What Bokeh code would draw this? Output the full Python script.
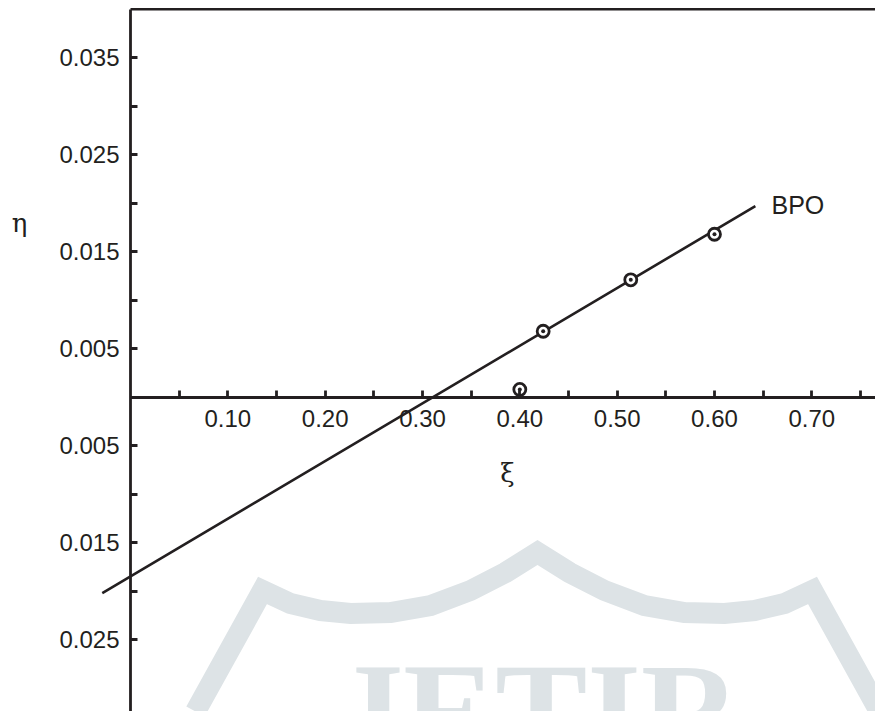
from bokeh.plotting import figure
from bokeh.models import Range1d, FixedTicker, CustomJSTickFormatter
from bokeh.core.properties import value
from bokeh.embed import file_html
from bokeh.resources import INLINE

# ---- data ----
xi = [0.400, 0.424, 0.514, 0.600]
eta = [0.0008, 0.0068, 0.0121, 0.0168]
fit_xi = [-0.029, 0.642]
fit_eta = [-0.0202, 0.0197]
series_label = "BPO"
x_ticks = [0.10, 0.20, 0.30, 0.40, 0.50, 0.60, 0.70]
x_minor = [0.05, 0.15, 0.25, 0.35, 0.45, 0.55, 0.65, 0.75]
y_ticks = [-0.025, -0.015, -0.005, 0.005, 0.015, 0.025, 0.035]
y_minor = [-0.02, -0.01, 0.01, 0.02, 0.03]
x_title = "ξ"
y_title = "η"

# ---- ranges ----
W, H = 875, 711
X0, X1 = -0.13357, 0.76544
Y0, Y1 = -0.032402, 0.040897
TOP = 0.04

INK = "#231f20"
WM = "#dde3e6"

def px(xp, yp):
    return X0 + xp / W * (X1 - X0), Y1 - yp / H * (Y1 - Y0)

p = figure(width=W, height=H, x_range=Range1d(X0, X1), y_range=Range1d(Y0, Y1),
           output_backend="svg", toolbar_location=None, min_border=0,
           outline_line_color=None, background_fill_color="white")
p.grid.visible = False

# ---- watermark (decoration) ----
left_path = [(195, 711), (262, 590), (290, 603), (320, 610), (350, 613), (390, 612),
             (430, 605), (470, 590), (505, 572), (537, 552)]
right_path = [(1074 - a, b) for a, b in reversed(left_path)]
wm_path = left_path + right_path[1:]
wx, wy = zip(*[px(a, b) for a, b in wm_path])
p.line(list(wx), list(wy), line_color=WM, line_width=21, line_join="miter")
tx, ty = px(537, 634)
p.text(x=[tx], y=[ty], text=["JETIR"], text_font=value("Liberation Serif"),
       text_font_style="bold", text_font_size="138px", text_color=WM,
       text_align="center", text_baseline="top")

# ---- frame top line ----
p.segment(x0=[0], y0=[TOP], x1=[X1], y1=[TOP], line_color=INK, line_width=2.6)

# ---- axes through origin ----
for ax in (p.xaxis, p.yaxis):
    ax.fixed_location = 0
    ax.axis_line_color = INK
    ax.axis_line_width = 2.8
    ax.major_tick_line_color = INK
    ax.minor_tick_line_color = INK
    ax.major_tick_line_width = 2.8
    ax.minor_tick_line_width = 2.8
    ax.major_tick_in = 7
    ax.major_tick_out = 0
    ax.minor_tick_in = 7
    ax.minor_tick_out = 0
    ax.major_label_text_font = "Liberation Sans"
    ax.major_label_text_font_size = "24px"
    ax.major_label_text_color = INK

p.xaxis.bounds = (0, X1)
p.xaxis.ticker = FixedTicker(ticks=x_ticks, minor_ticks=x_minor)
p.xaxis.formatter = CustomJSTickFormatter(code="return tick.toFixed(2);")
p.xaxis.major_label_standoff = 13

p.yaxis.bounds = (Y0, TOP)
p.yaxis.ticker = FixedTicker(ticks=y_ticks, minor_ticks=y_minor)
p.yaxis.formatter = CustomJSTickFormatter(code="return Math.abs(tick).toFixed(3);")
p.yaxis.major_label_standoff = 11

# ---- fitted line and points ----
p.line(fit_xi, fit_eta, line_color=INK, line_width=2.6)
p.scatter(xi, eta, marker="circle", size=12, fill_color="white", line_color=INK, line_width=2.8)
p.scatter(xi, eta, marker="circle", size=4, fill_color=INK, line_color=None)

# ---- labels ----
lx, ly = px(771, 204)
p.text(x=[lx], y=[ly], text=[series_label], text_font=value("Liberation Sans"),
       text_font_size="25px", text_color=INK, text_align="left", text_baseline="middle")
ex, ey = px(19, 222)
p.text(x=[ex], y=[ey], text=[y_title], text_font=value("DejaVu Serif"),
       text_font_size="26px", text_color=INK, text_align="center", text_baseline="middle")
kx, ky = px(507, 472)
p.text(x=[kx], y=[ky], text=[x_title], text_font=value("DejaVu Serif"),
       text_font_size="26px", text_color=INK, text_align="center", text_baseline="middle")

open("out.html", "w").write(file_html(p, INLINE))
